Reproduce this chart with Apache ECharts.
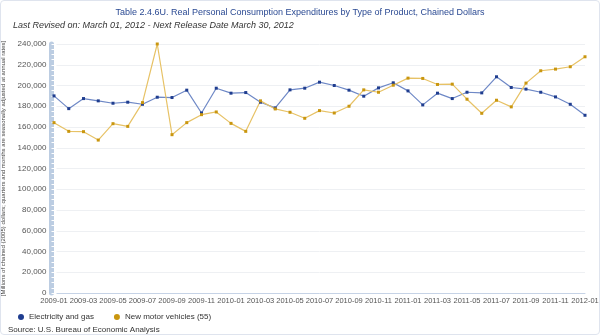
<!DOCTYPE html>
<html>
<head>
<meta charset="utf-8">
<script src="https://cdn.jsdelivr.net/npm/echarts@6/dist/echarts.min.js"></script>
<style>
  html, body { margin: 0; padding: 0; background: #fff; }
  #chart { width: 598px; height: 333px; border: 1px solid #dfe4ee; border-radius: 4px; }
</style>
</head>
<body>
<div id="chart"></div>
<script>
// monthly, 2009-01 .. 2012-01
var months = [];
for (var y = 2009; y <= 2012; y++) {
    for (var m = 1; m <= 12; m++) {
        if (y === 2012 && m > 1) break;
        months.push(y + '-' + (m < 10 ? '0' + m : m));
    }
}

var electricity = [
    190000, 177700, 187400, 185200, 182900, 183900, 181900, 188700, 188400, 195500,
    173500, 197400, 192600, 193200, 183900, 178400, 195800, 197400, 203200, 200000,
    195500, 189700, 197700, 202600, 194800, 181300, 192600, 187400, 193500, 192900,
    208400, 198100, 196500, 193500, 189000, 181900, 171300
];
var vehicles = [
    164200, 155800, 155500, 147400, 163200, 160600, 183500, 240000, 152600, 164200,
    171900, 174500, 163500, 155800, 185200, 177400, 174200, 168400, 175800, 173500,
    180000, 195800, 193500, 200300, 207100, 206800, 201000, 201300, 186800, 173200,
    185800, 179400, 202300, 214200, 215800, 218100, 227700
];

var yTicks = { min: 0, max: 240000, interval: 20000 };

var chart = echarts.init(document.getElementById('chart'));
chart.setOption({
    animation: false,
    title: [{
        text: 'Table 2.4.6U. Real Personal Consumption Expenditures by Type of Product, Chained Dollars',
        left: 'center', top: 2,
        textStyle: { fontSize: 9, fontWeight: 'normal', color: '#2b4a93', fontFamily: 'Liberation Sans, Arial' }
    }, {
        text: 'Last Revised on: March 01, 2012 - Next Release Date March 30, 2012',
        left: 7, top: 15,
        textStyle: { fontSize: 9, fontWeight: 'normal', fontStyle: 'italic', color: '#333', fontFamily: 'Liberation Sans, Arial' }
    }, {
        text: 'Source: U.S. Bureau of Economic Analysis',
        left: 2, top: 320,
        textStyle: { fontSize: 8, fontWeight: 'normal', color: '#333', fontFamily: 'Liberation Sans, Arial' }
    }],
    legend: {
        left: 12, top: 307,
        itemWidth: 6, itemHeight: 6, itemGap: 20,
        icon: 'circle',
        textStyle: { fontSize: 8, color: '#333', fontFamily: 'Liberation Sans, Arial' },
        data: ['Electricity and gas', 'New motor vehicles (55)']
    },
    grid: { left: 53, right: 14, top: 43, bottom: 41, outerBoundsMode: 'none', containLabel: false },
    xAxis: {
        type: 'category',
        boundaryGap: false,
        data: months,
        axisLine: { lineStyle: { color: '#c6d3e6', width: 1 } },
        axisTick: { show: false },
        axisLabel: { interval: 1, fontSize: 7.5, color: '#555', margin: 4, hideOverlap: false, fontFamily: 'Liberation Sans, Arial' },
        splitLine: { show: false }
    },
    yAxis: {
        type: 'value',
        min: yTicks.min, max: yTicks.max, interval: yTicks.interval,
        offset: 2.5,
        name: '[Millions of chained (2005) dollars; quarters and months are seasonally adjusted at annual rates]',
        nameLocation: 'middle',
        nameGap: 38,
        nameTextStyle: { fontSize: 6, color: '#444', fontFamily: 'Liberation Sans, Arial' },
        axisLine: { show: true, lineStyle: { color: '#bccde2', width: 5 } },
        axisTick: { show: true, inside: true, length: 5, lineStyle: { color: '#fff', width: 1 } },
        minorTick: { show: true, splitNumber: 4, length: 5, lineStyle: { color: '#fff', width: 1 } },
        axisLabel: {
            fontSize: 8, color: '#555', margin: 5, fontFamily: 'Liberation Sans, Arial',
            formatter: function (v) { return v.toLocaleString('en-US'); }
        },
        splitLine: { lineStyle: { color: '#eef0f3', width: 1 } }
    },
    series: [{
        name: 'Electricity and gas',
        type: 'line',
        data: electricity,
        symbol: 'rect', symbolSize: 3,
        itemStyle: { color: '#1f3d8f' },
        lineStyle: { color: '#6e88c6', width: 1.2 }
    }, {
        name: 'New motor vehicles (55)',
        type: 'line',
        data: vehicles,
        symbol: 'rect', symbolSize: 3,
        itemStyle: { color: '#c9960f' },
        lineStyle: { color: '#e7c266', width: 1.2 }
    }]
});
</script>
</body>
</html>
